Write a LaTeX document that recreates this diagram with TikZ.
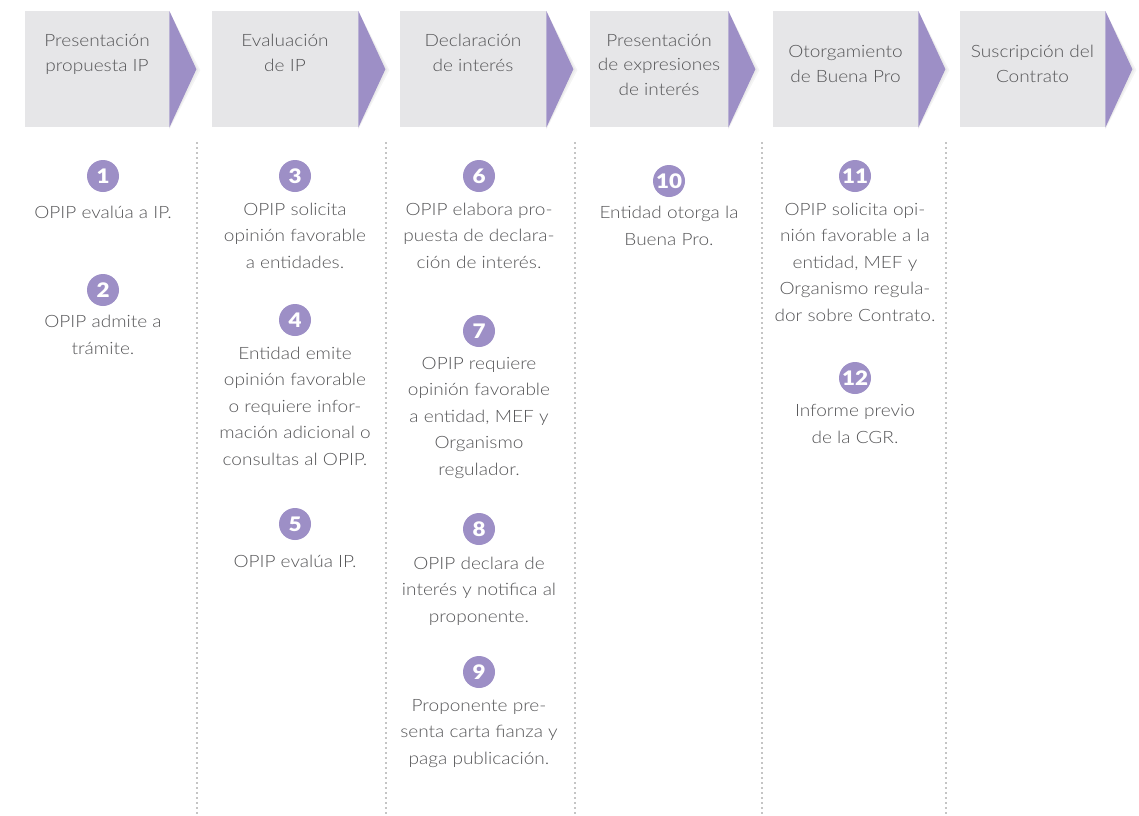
\documentclass[tikz,border=0pt]{standalone}
\usepackage{fontspec}
\usetikzlibrary{calc}
\setmainfont{Lato}[UprightFont={* Light},BoldFont={* Black},FakeStretch=1.12]
\definecolor{txtgray}{HTML}{555557}
\definecolor{boxgray}{HTML}{E6E6E8}
\definecolor{lila}{HTML}{9D8FC6}
\definecolor{dotgray}{HTML}{8A8A8A}
\tikzset{
  hbox/.style={fill=boxgray, draw=none, inner sep=0, anchor=north west, minimum height=116},
  htxt/.style={align=center, text=txtgray, inner sep=0, font=\fontsize{17}{24.5}\selectfont,
    execute at begin node=\strut, execute at end node=\strut},
  body/.style={align=center, text=txtgray, inner sep=0, font=\fontsize{17}{26.5}\selectfont,
    execute at begin node=\strut, execute at end node=\strut},
  num/.style={circle, fill=lila, minimum size=32, inner sep=0, text=white,
    font=\bfseries\fontsize{20}{20}\selectfont},
  dotline/.style={draw=dotgray, line width=1.6pt, line cap=round, dash pattern=on 0pt off 5pt},
  arrowtri/.style={fill=lila, draw=none},
  shadowa/.style={fill=black!4, draw=none},
  shadowb/.style={fill=black!8, draw=none}
}
\begin{document}
\begin{tikzpicture}[x=1pt,y=-1pt]
\useasboundingbox (0,0) rectangle (1139,815);
% header boxes
\node[hbox, minimum width=144] (h1) at (25,11) {};
\node[hbox, minimum width=146] (h2) at (212,11) {};
\node[hbox, minimum width=146] (h3) at (400,11) {};
\node[hbox, minimum width=138] (h4) at (590,11) {};
\node[hbox, minimum width=145] (h5) at (773,11) {};
\node[hbox, minimum width=145] (h6) at (960,11) {};
\foreach \h in {h1,h2,h3,h4,h5,h6}{
  \fill[shadowa] ($(\h.north east)+(0,1)$) -- ($(\h.east)+(31,1)$) -- ($(\h.south east)+(0,2)$) -- cycle;
  \fill[shadowb] ($(\h.north east)+(0,0.5)$) -- ($(\h.east)+(29,0.5)$) -- ($(\h.south east)+(0,1)$) -- cycle;
  \fill[arrowtri] (\h.north east) -- ($(\h.east)+(27,0)$) -- (\h.south east) -- cycle;
}
% header texts
\node[htxt] (t1) at (97,56.5) {Presentación\\propuesta IP};
\node[htxt] (t2) at (285,56.5) {Evaluación\\de IP};
\node[htxt] (t3) at (473,56.5) {Declaración\\de interés};
\node[htxt] (t4) at (659,68.5) {Presentación\\de expresiones\\de interés};
\node[htxt] (t5) at (845.5,67.5) {Otorgamiento\\de Buena Pro};
\node[htxt] (t6) at (1032.5,67.5) {Suscripción del\\Contrato};
% dotted separators
\foreach \x [count=\i] in {197,386,575,762,946}{
  \coordinate (d\i t) at (\x,143);
  \coordinate (d\i b) at (\x,813);
  \draw[dotline] (d\i t) -- (d\i b);
}
% column 1
\node[num] (n1) at (103,176) {1};
\node[body] (b1) at (103,213) {OPIP evalúa a IP.};
\node[num] (n2) at (103,290) {2};
\node[body] (b2) at (103,339) {OPIP admite a\\trámite.};
% column 2
\node[num] (n3) at (295,176) {3};
\node[body] (b3) at (295,239.5) {OPIP solicita\\opinión favorable\\a entidades.};
\node[num] (n4) at (295,320) {4};
\node[body] (b4) at (295,410) {Entidad emite\\opinión favorable\\o requiere infor-\\mación adicional o\\consultas al OPIP.};
\node[num] (n5) at (295,524) {5};
\node[body] (b5) at (295,562) {OPIP evalúa IP.};
% column 3
\node[num] (n6) at (479,176) {6};
\node[body] (b6) at (479,239.5) {OPIP elabora pro-\\puesta de declara-\\ción de interés.};
\node[num] (n7) at (479,331) {7};
\node[body] (b7) at (479,420) {OPIP requiere\\opinión favorable\\a entidad, MEF y\\Organismo\\regulador.};
\node[num] (n8) at (479,529) {8};
\node[body] (b8) at (479,593.5) {OPIP declara de\\interés y notifica al\\proponente.};
\node[num] (n9) at (479,672) {9};
\node[body] (b9) at (479,735.5) {Proponente pre-\\senta carta fianza y\\paga publicación.};
% column 4
\node[num] (n10) at (669,181) {10};
\node[body] (b10) at (669,230) {Entidad otorga la\\Buena Pro.};
% column 5
\node[num] (n11) at (855,176) {11};
\node[body] (b11) at (855,266) {OPIP solicita opi-\\nión favorable a la\\entidad, MEF y\\Organismo regula-\\dor sobre Contrato.};
\node[num] (n12) at (855,378) {12};
\node[body] (b12) at (855,428) {Informe previo\\de la CGR.};
\end{tikzpicture}
\end{document}
